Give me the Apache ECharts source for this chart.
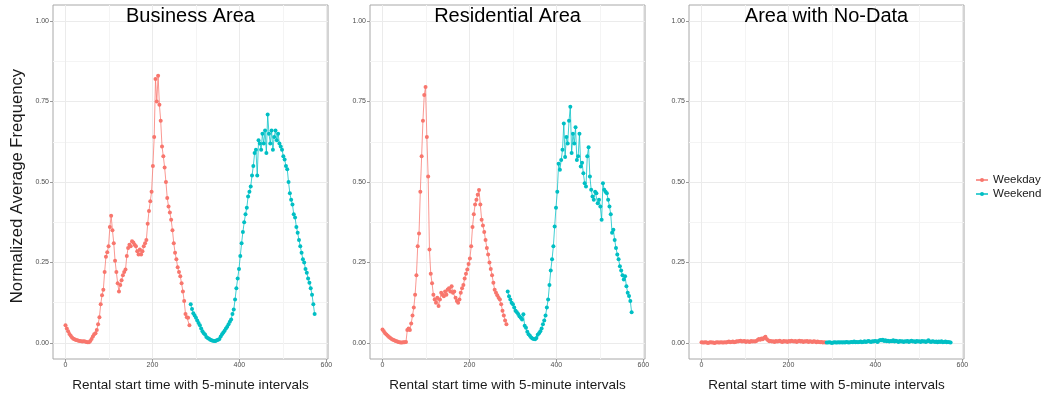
<!DOCTYPE html>
<html>
<head>
<meta charset="utf-8">
<title>Normalized Average Frequency</title>
<script src="https://cdn.jsdelivr.net/npm/echarts@6/dist/echarts.min.js"></script>
<style>
  html, body { margin: 0; padding: 0; background: #fff; }
  #myChart { width: 1043px; height: 394px; }
</style>
</head>
<body>
<div id="myChart"></div>
<script>
// x = rental start slot (5-minute intervals), one reading every 3 slots
const STEP = 3
const weekdayStart = 0
const weekendStart = 288

const panelTitles = ['Business Area', 'Residential Area', 'Area with No-Data']
const seriesNames = ['Weekday', 'Weekend']
const xTicks = [0, 200, 400, 600]
const xMinorTicks = [100, 300, 500]
const yTicks = [0, 0.25, 0.5, 0.75, 1]
const yMinorTicks = [0.125, 0.375, 0.625, 0.875]

const businessWeekday = [
  0.055, 0.045, 0.036, 0.028, 0.022, 0.017, 0.013, 0.011, 0.009, 0.008, 0.007, 0.006,
  0.005, 0.004, 0.005, 0.004, 0.003, 0.002, 0.002, 0.006, 0.012, 0.020, 0.027, 0.030,
  0.040, 0.058, 0.080, 0.120, 0.148, 0.165, 0.220, 0.268, 0.282, 0.300, 0.360, 0.395,
  0.350, 0.310, 0.255, 0.220, 0.185, 0.160, 0.180, 0.195, 0.210, 0.220, 0.228, 0.270,
  0.295, 0.305, 0.300, 0.316, 0.312, 0.305, 0.300, 0.285, 0.275, 0.290, 0.275, 0.285,
  0.300, 0.310, 0.320, 0.370, 0.410, 0.440, 0.470, 0.550, 0.640, 0.820, 0.750, 0.830,
  0.740, 0.690, 0.610, 0.580, 0.545, 0.500, 0.450, 0.424, 0.405, 0.383, 0.350, 0.310,
  0.280, 0.260, 0.235, 0.220, 0.207, 0.185, 0.160, 0.130, 0.090, 0.080, 0.078, 0.055
]
const businessWeekend = [
  0.120, 0.105, 0.092, 0.085, 0.078, 0.070, 0.062, 0.055, 0.045, 0.036, 0.030, 0.026,
  0.018, 0.015, 0.013, 0.010, 0.008, 0.007, 0.006, 0.006, 0.008, 0.010, 0.012, 0.020,
  0.027, 0.032, 0.038, 0.045, 0.050, 0.058, 0.066, 0.073, 0.090, 0.104, 0.135, 0.170,
  0.200, 0.230, 0.270, 0.310, 0.345, 0.375, 0.400, 0.420, 0.455, 0.470, 0.486, 0.520,
  0.550, 0.590, 0.600, 0.520, 0.630, 0.620, 0.600, 0.650, 0.620, 0.660, 0.590, 0.710,
  0.650, 0.620, 0.660, 0.600, 0.640, 0.660, 0.630, 0.650, 0.620, 0.610, 0.600, 0.580,
  0.570, 0.550, 0.540, 0.500, 0.465, 0.445, 0.430, 0.400, 0.390, 0.360, 0.342, 0.320,
  0.300, 0.280, 0.260, 0.250, 0.230, 0.218, 0.200, 0.187, 0.170, 0.150, 0.120, 0.090
]
const residentialWeekday = [
  0.042, 0.036, 0.030, 0.026, 0.022, 0.018, 0.015, 0.012, 0.010, 0.008, 0.006, 0.005,
  0.003, 0.002, 0.001, 0.001, 0.002, 0.002, 0.003, 0.040, 0.045, 0.040, 0.060, 0.085,
  0.110, 0.150, 0.210, 0.300, 0.340, 0.470, 0.580, 0.690, 0.770, 0.795, 0.640, 0.517,
  0.290, 0.215, 0.185, 0.150, 0.135, 0.125, 0.140, 0.115, 0.135, 0.156, 0.150, 0.145,
  0.160, 0.150, 0.166, 0.170, 0.160, 0.176, 0.156, 0.160, 0.140, 0.130, 0.125, 0.135,
  0.156, 0.170, 0.180, 0.200, 0.215, 0.228, 0.245, 0.262, 0.300, 0.360, 0.400, 0.430,
  0.445, 0.460, 0.475, 0.430, 0.383, 0.365, 0.345, 0.320, 0.295, 0.275, 0.250, 0.230,
  0.210, 0.187, 0.165, 0.156, 0.148, 0.140, 0.135, 0.120, 0.100, 0.085, 0.070, 0.058
]
const residentialWeekend = [
  0.160, 0.145, 0.135, 0.125, 0.120, 0.110, 0.100, 0.095, 0.090, 0.083, 0.078, 0.073,
  0.089, 0.053, 0.047, 0.035, 0.027, 0.022, 0.017, 0.014, 0.012, 0.011, 0.015, 0.025,
  0.030, 0.036, 0.045, 0.058, 0.070, 0.085, 0.110, 0.135, 0.180, 0.225, 0.260, 0.300,
  0.362, 0.420, 0.470, 0.557, 0.538, 0.568, 0.600, 0.682, 0.578, 0.640, 0.620, 0.690,
  0.734, 0.590, 0.650, 0.620, 0.670, 0.568, 0.580, 0.650, 0.548, 0.560, 0.527, 0.496,
  0.486, 0.580, 0.608, 0.517, 0.476, 0.455, 0.445, 0.470, 0.465, 0.434, 0.445, 0.424,
  0.383, 0.496, 0.476, 0.470, 0.465, 0.445, 0.424, 0.400, 0.342, 0.352, 0.320, 0.295,
  0.275, 0.260, 0.238, 0.225, 0.210, 0.197, 0.207, 0.176, 0.156, 0.146, 0.130, 0.095
]
const noDataWeekday = [
  0.002, 0.001, 0.001, 0.002, 0.001, 0.000, 0.001, 0.002, 0.001, 0.001, 0.000, 0.001,
  0.002, 0.001, 0.001, 0.002, 0.001, 0.001, 0.002, 0.001, 0.003, 0.004, 0.002, 0.003,
  0.004, 0.002, 0.003, 0.005, 0.004, 0.006, 0.007, 0.004, 0.005, 0.006, 0.003, 0.005,
  0.004, 0.003, 0.006, 0.004, 0.005, 0.004, 0.006, 0.009, 0.012, 0.010, 0.014, 0.011,
  0.016, 0.019, 0.012, 0.008, 0.005, 0.006, 0.004, 0.005, 0.003, 0.006, 0.004, 0.005,
  0.007, 0.004, 0.003, 0.006, 0.004, 0.005, 0.003, 0.006, 0.004, 0.007, 0.005, 0.004,
  0.006, 0.003, 0.005, 0.007, 0.004, 0.006, 0.003, 0.005, 0.004, 0.006, 0.003, 0.005,
  0.004, 0.003, 0.005, 0.004, 0.002, 0.004, 0.003, 0.002, 0.003, 0.001, 0.002, 0.001
]
const noDataWeekend = [
  0.001, 0.001, 0.002, 0.001, 0.000, 0.001, 0.002, 0.001, 0.001, 0.002, 0.001, 0.002,
  0.001, 0.002, 0.001, 0.003, 0.002, 0.001, 0.002, 0.003, 0.002, 0.004, 0.002, 0.003,
  0.002, 0.003, 0.004, 0.002, 0.003, 0.005, 0.003, 0.004, 0.006, 0.004, 0.003, 0.005,
  0.004, 0.006, 0.005, 0.003, 0.007, 0.009, 0.008, 0.010, 0.006, 0.008, 0.005, 0.007,
  0.004, 0.006, 0.005, 0.008, 0.004, 0.007, 0.005, 0.003, 0.006, 0.004, 0.005, 0.003,
  0.005, 0.004, 0.006, 0.003, 0.005, 0.007, 0.004, 0.005, 0.003, 0.006, 0.004, 0.005,
  0.003, 0.006, 0.004, 0.005, 0.003, 0.005, 0.008, 0.004, 0.003, 0.005, 0.004, 0.003,
  0.004, 0.002, 0.004, 0.003, 0.005, 0.002, 0.003, 0.004, 0.002, 0.003, 0.002, 0.001
]

const panelData = [
  [businessWeekday, businessWeekend],
  [residentialWeekday, residentialWeekend],
  [noDataWeekday, noDataWeekend]
]

const colors = ['#F8766D', '#00BFC4']
const font = "'Liberation Sans', Arial, sans-serif"
const panelLeft = [53, 370, 689]
const panelWidth = 275
const panelTop = 5
const panelHeight = 354

const toPoints = (values, start) => values.map((v, i) => [start + i * STEP, v])

let grid = []
let xAxis = []
let yAxis = []
let series = []
let graphic = []

panelTitles.forEach((title, i) => {
  grid.push({
    left: panelLeft[i], top: panelTop, width: panelWidth, height: panelHeight,
    show: true, borderColor: '#a8a8a8', borderWidth: 1, backgroundColor: '#fff'
  })
  // main axis: ticks, labels, major grid lines
  xAxis.push({
    type: 'value', gridIndex: i, min: -28.75, max: 603.75,
    axisLine: { show: false, onZero: false },
    axisTick: { show: true, customValues: xTicks, length: 3, lineStyle: { color: '#999' } },
    axisLabel: { customValues: xTicks, fontSize: 7, color: '#4d4d4d', margin: 3, fontFamily: font },
    splitLine: { show: true, lineStyle: { color: '#ebebeb', width: 1 } }
  })
  // minor grid lines only
  xAxis.push({
    type: 'value', gridIndex: i, min: -28.75, max: 603.75, position: 'bottom',
    axisLine: { show: false, onZero: false },
    axisTick: { show: false, customValues: xMinorTicks },
    axisLabel: { show: false, customValues: xMinorTicks },
    splitLine: { show: true, lineStyle: { color: '#f4f4f4', width: 1 } }
  })
  yAxis.push({
    type: 'value', gridIndex: i, min: -0.05, max: 1.05,
    axisLine: { show: false, onZero: false },
    axisTick: { show: true, customValues: yTicks, length: 3, lineStyle: { color: '#999' } },
    axisLabel: {
      customValues: yTicks, fontSize: 7, color: '#4d4d4d', margin: 4, fontFamily: font,
      formatter: v => v.toFixed(2)
    },
    splitLine: { show: true, lineStyle: { color: '#ebebeb', width: 1 } }
  })
  yAxis.push({
    type: 'value', gridIndex: i, min: -0.05, max: 1.05, position: 'left',
    axisLine: { show: false, onZero: false },
    axisTick: { show: false, customValues: yMinorTicks },
    axisLabel: { show: false, customValues: yMinorTicks },
    splitLine: { show: true, lineStyle: { color: '#f4f4f4', width: 1 } }
  })

  panelData[i].forEach((values, k) => {
    series.push({
      name: seriesNames[k],
      type: 'line',
      xAxisIndex: i * 2,
      yAxisIndex: i * 2,
      data: toPoints(values, k === 0 ? weekdayStart : weekendStart),
      symbol: 'circle',
      symbolSize: 4,
      itemStyle: { color: colors[k] },
      lineStyle: { width: 1, opacity: 0.75 },
      emphasis: { disabled: true },
      z: 3
    })
  })

  let cx = panelLeft[i] + panelWidth / 2
  graphic.push({
    type: 'text', x: cx, y: 16, z: 10,
    style: { text: title, fontSize: 20, fontFamily: font, fill: '#000', align: 'center', verticalAlign: 'middle' }
  })
  graphic.push({
    type: 'text', x: cx, y: 385,
    style: {
      text: 'Rental start time with 5-minute intervals', fontSize: 13.5, fontFamily: font,
      fill: '#1a1a1a', align: 'center', verticalAlign: 'middle'
    }
  })
})

graphic.push({
  type: 'text', x: 17, y: 186, rotation: Math.PI / 2,
  style: {
    text: 'Normalized Average Frequency', fontSize: 16.7, fontFamily: font,
    fill: '#1a1a1a', align: 'center', verticalAlign: 'middle'
  }
})

const option = {
  animation: false,
  backgroundColor: '#fff',
  grid: grid,
  xAxis: xAxis,
  yAxis: yAxis,
  legend: {
    data: seriesNames,
    orient: 'vertical',
    left: 975,
    top: 174,
    padding: 0,
    itemWidth: 12,
    itemHeight: 5,
    itemGap: 2,
    textStyle: { fontSize: 11.5, color: '#1a1a1a', fontFamily: font }
  },
  graphic: graphic,
  series: series
}

let myChart = echarts.init(document.getElementById('myChart'))
myChart.setOption(option)
</script>
</body>
</html>
